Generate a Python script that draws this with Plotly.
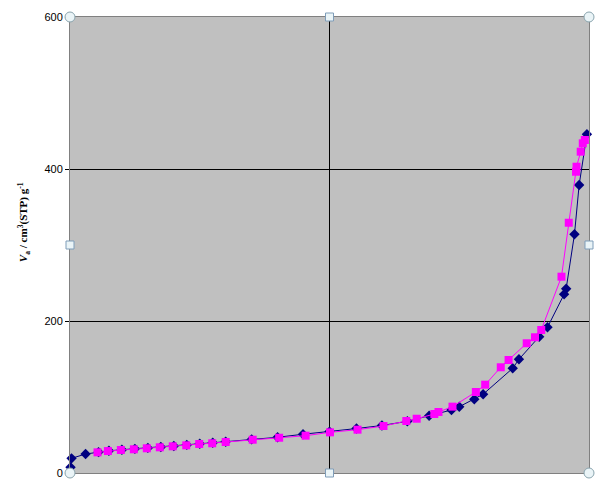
import plotly.graph_objects as go

# Adsorption branch (navy diamonds)
ads_x = [0.001, 0.003, 0.030, 0.055, 0.075, 0.100, 0.125, 0.150, 0.175, 0.200,
         0.225, 0.250, 0.275, 0.300, 0.350, 0.400, 0.449, 0.500, 0.552, 0.601,
         0.650, 0.692, 0.735, 0.750, 0.779, 0.796, 0.853, 0.865, 0.904, 0.920,
         0.952, 0.956, 0.972, 0.981, 0.996]
ads_y = [7.5, 19.3, 25.0, 27.5, 29.2, 30.6, 31.8, 33.0, 34.2, 35.5,
         37.0, 38.5, 39.8, 41.2, 44.2, 47.0, 51.0, 54.5, 58.5, 62.5,
         68.0, 75.4, 82.9, 87.2, 97.0, 103.6, 137.8, 149.6, 179.3, 191.7,
         235.1, 242.5, 314.1, 378.9, 445.7]

# Desorption branch (magenta squares)
des_x = [0.053, 0.073, 0.098, 0.123, 0.148, 0.173, 0.198, 0.224, 0.249, 0.274,
         0.300, 0.352, 0.403, 0.454, 0.501, 0.554, 0.604, 0.648, 0.668, 0.702,
         0.710, 0.737, 0.782, 0.800, 0.830, 0.845, 0.880, 0.896, 0.908, 0.947,
         0.961, 0.975, 0.976, 0.984, 0.988, 0.992]
des_y = [27.2, 28.9, 30.3, 31.2, 32.5, 33.8, 35.1, 36.4, 38.2, 39.1,
         40.8, 43.8, 46.4, 49.1, 53.5, 57.0, 61.8, 68.4, 71.4, 77.6,
         80.3, 87.3, 106.6, 116.2, 139.1, 148.7, 170.7, 178.6, 188.2, 258.3,
         329.3, 396.4, 403.0, 422.8, 433.8, 438.2]

y_ticks = [0, 200, 400, 600]
x_grid = [0.5]

fig = go.Figure()
fig.add_trace(go.Scatter(
    x=ads_x, y=ads_y, mode="lines+markers",
    line=dict(color="#000080", width=1),
    marker=dict(symbol="diamond", size=8, color="#000080"),
    cliponaxis=False, showlegend=False))
fig.add_trace(go.Scatter(
    x=des_x, y=des_y, mode="lines+markers",
    line=dict(color="#FF00FF", width=1),
    marker=dict(symbol="square", size=8, color="#FF00FF"),
    cliponaxis=False, showlegend=False))

fig.update_layout(
    width=598, height=480, autosize=False,
    margin=dict(l=70, r=9, t=17, b=7),
    paper_bgcolor="white", plot_bgcolor="#C0C0C0",
    font=dict(family="Liberation Sans, Arial", size=11, color="black"),
    xaxis=dict(range=[0, 1], tickvals=x_grid, showticklabels=False,
               showgrid=True, gridcolor="black", gridwidth=1,
               zeroline=False, showline=True, linecolor="#808080",
               linewidth=1, mirror=True, ticks="", automargin=False),
    yaxis=dict(range=[0, 600], tickvals=y_ticks, showgrid=True,
               gridcolor="black", gridwidth=1, zeroline=False,
               showline=True, linecolor="#808080", linewidth=1, mirror=True,
               ticks="outside", ticklen=4, tickcolor="black", automargin=False,
               tickfont=dict(family="Liberation Sans, Arial", size=11)),
)

fig.add_annotation(
    xref="paper", yref="paper", x=-0.108, y=0.55,
    text="<b><i>V</i><sub>a</sub> / cm<sup>3</sup>(STP) g<sup>-1</sup></b>",
    textangle=-90, showarrow=False,
    font=dict(family="Liberation Serif, Times New Roman", size=11, color="black"))

# selection handles
for (hx, hy) in [(0, 0), (1, 0), (0, 1), (1, 1)]:
    fig.add_shape(type="circle", xref="paper", yref="paper",
                  xsizemode="pixel", ysizemode="pixel",
                  xanchor=hx, yanchor=hy, x0=-5, x1=5, y0=-5, y1=5,
                  fillcolor="#EAF4F7", line=dict(color="#8AA4AE", width=1))
for (hx, hy) in [(0.5, 0), (0.5, 1), (0, 0.5), (1, 0.5)]:
    fig.add_shape(type="rect", xref="paper", yref="paper",
                  xsizemode="pixel", ysizemode="pixel",
                  xanchor=hx, yanchor=hy, x0=-4, x1=4, y0=-4, y1=4,
                  fillcolor="#EAF4F7", line=dict(color="#7F9DB9", width=1))

fig.write_html("out.html", config={"displayModeBar": False},
               post_script="document.body.style.margin='0';document.body.style.overflow='hidden';")
